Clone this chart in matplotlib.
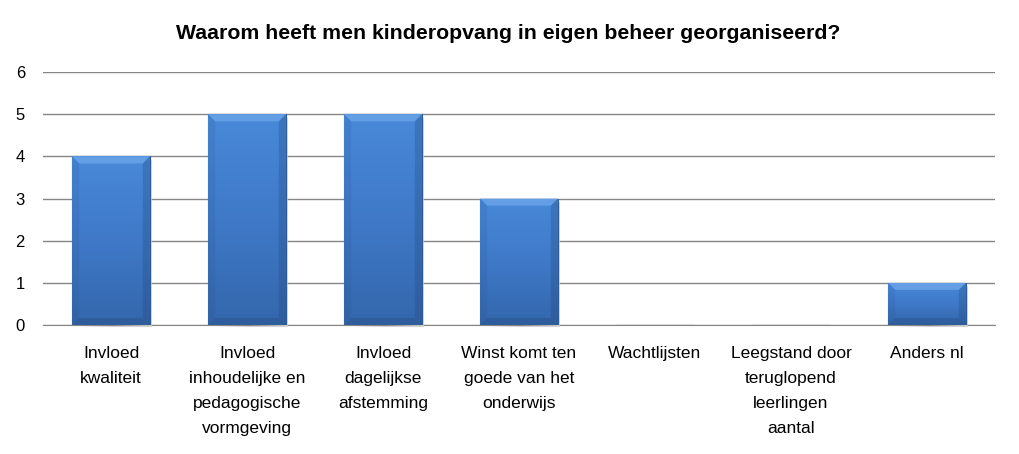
import numpy as np
import matplotlib.pyplot as plt
from matplotlib.colors import LinearSegmentedColormap
from matplotlib.patches import Polygon

plt.rcParams['font.family'] = ['Liberation Sans', 'DejaVu Sans']

# data
categories = [
    "Invloed\nkwaliteit",
    "Invloed\ninhoudelijke en\npedagogische\nvormgeving",
    "Invloed\ndagelijkse\nafstemming",
    "Winst komt ten\ngoede van het\nonderwijs",
    "Wachtlijsten",
    "Leegstand door\nteruglopend\nleerlingen\naantal",
    "Anders nl",
]
counts = [4, 5, 5, 3, 0, 0, 1]
title = "Waarom heeft men kinderopvang in eigen beheer georganiseerd?"

fig = plt.figure(figsize=(10.19, 4.54), dpi=100)
ax = fig.add_axes([0.0422, 0.284, 0.9343, 0.557])

x = np.arange(len(categories))
bars = ax.bar(x, counts, width=0.57, color="#3f78c6", edgecolor="#2c5a96",
              linewidth=0.8, zorder=3)

ax.set_xlim(-0.5, len(categories) - 0.5)
ax.set_ylim(0, 6)

# bevel size of about 7 px, turned into data units
bbox = ax.get_window_extent()
px_x = (len(categories)) / bbox.width
px_y = 6 / bbox.height
bx = 7 * px_x
by = 7 * px_y

# vertical gradient + bevel on each bar
cmap = LinearSegmentedColormap.from_list("bar", ["#4889d8", "#3f79c8", "#3467ac"])
grad = np.linspace(0, 1, 100).reshape(-1, 1)
for b in bars:
    h = b.get_height()
    if h <= 0:
        continue
    x0, w = b.get_x(), b.get_width()
    # soft shadow on the right
    ax.add_patch(Polygon([[x0 + w, h - by * 0.5], [x0 + w + 2 * px_x, h - by * 0.5],
                          [x0 + w + 2 * px_x, -2 * px_y], [x0 + 2 * px_x, -2 * px_y], [x0 + w, 0]],
                         closed=True, facecolor="#d0d0d0", edgecolor="none", zorder=2.5,
                         clip_on=False))
    im = ax.imshow(grad, cmap=cmap, aspect="auto", origin="upper",
                   extent=[x0, x0 + w, 0, h], zorder=3.5)
    im.set_clip_path(b)
    top = Polygon([[x0, h], [x0 + w, h], [x0 + w - bx, h - by], [x0 + bx, h - by]],
                  closed=True, facecolor="#6aa3e8", alpha=0.85, edgecolor="none", zorder=4)
    left = Polygon([[x0, h], [x0 + bx, h - by], [x0 + bx, by], [x0, 0]],
                   closed=True, facecolor="#1e3f6e", alpha=0.10, edgecolor="none", zorder=4)
    right = Polygon([[x0 + w, h], [x0 + w - bx, h - by], [x0 + w - bx, by], [x0 + w, 0]],
                    closed=True, facecolor="#1e3f6e", alpha=0.25, edgecolor="none", zorder=4)
    bottom = Polygon([[x0, 0], [x0 + w, 0], [x0 + w - bx, by], [x0 + bx, by]],
                     closed=True, facecolor="#1e3f6e", alpha=0.25, edgecolor="none", zorder=4)
    for p in (top, left, right, bottom):
        ax.add_patch(p)
    ax.add_patch(Polygon(b.get_verts(), closed=True, fill=False,
                         edgecolor="#4070ae", linewidth=0.8, zorder=5))

ax.set_yticks(range(0, 7))
ax.yaxis.grid(True, color="#868686", linewidth=1, zorder=0)
ax.set_axisbelow(True)
for s in ("top", "right", "left"):
    ax.spines[s].set_visible(False)
ax.spines["bottom"].set_color("#868686")
ax.spines["bottom"].set_zorder(1)
ax.tick_params(axis="y", length=0, labelsize=12, pad=13)
ax.tick_params(axis="x", length=0, labelsize=12.5, pad=15)
ax.set_xticks(x)
ax.set_xticklabels(categories, linespacing=1.85, va="top")

fig.text(0.4985, 0.927, title, ha="center", va="center", fontsize=15.3, fontweight="bold")

fig.savefig("out.png", dpi=100)
